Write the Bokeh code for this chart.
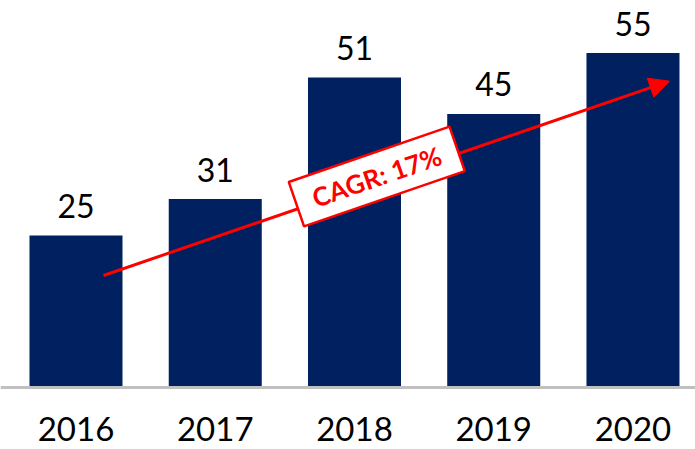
import math
from bokeh.plotting import figure
from bokeh.models import Span, Arrow, NormalHead, Range1d, ColumnDataSource
from bokeh.core.properties import value
from bokeh.embed import file_html
from bokeh.resources import INLINE

years = ["2016", "2017", "2018", "2019", "2020"]
values = [25, 31, 51, 45, 55]
cagr_text = "CAGR: 17%"

xs = list(range(len(years)))
NAVY = "#002060"
RED = "#ff0000"
FONT = "Lato"

p = figure(width=695, height=449, output_backend="svg", toolbar_location=None,
           x_range=Range1d(-0.5422, 4.449), y_range=Range1d(-10.2, 63.65),
           min_border=0)
p.axis.visible = False
p.grid.visible = False
p.outline_line_color = None
p.background_fill_color = "white"
p.border_fill_color = "white"

src = ColumnDataSource(dict(x=xs, top=values, year=years,
                            lab=[str(v) for v in values],
                            ly=[v + 4.85 for v in values],
                            yy=[-6.9] * len(xs)))

p.vbar(x="x", top="top", bottom=0, width=0.668, source=src,
       fill_color=NAVY, line_color=None)

p.add_layout(Span(location=0, dimension="width", line_color="#c0c0c0", line_width=3))

p.text(x="x", y="ly", text="lab", source=src, text_align="center",
       text_baseline="middle", text_font=value(FONT), text_font_size="32px",
       text_color="black")
p.text(x="x", y="yy", text="year", source=src, text_align="center",
       text_baseline="middle", text_font=value(FONT), text_font_size="33px",
       text_color="black")

arrow = Arrow(x_start=0.1975, y_start=18.42, x_end=4.262, y_end=50.38,
              line_color=RED, line_width=3,
              end=NormalHead(size=20, fill_color=RED, line_color=RED))
p.add_layout(arrow)

ang = math.radians(19)
bx, by = 2.16, 34.7
r = p.rect(x=[bx], y=[by], width=170, height=47, width_units="screen",
           height_units="screen", angle=ang, fill_color="white",
           line_color=RED, line_width=2.5)
r.level = "overlay"
t = p.text(x=[bx], y=[by], text=[cagr_text], angle=ang, text_align="center",
           text_baseline="middle", text_font=value(FONT), text_font_style="bold",
           text_font_size="26px", text_color=RED)
t.level = "overlay"

open("out.html", "w").write(file_html(p, INLINE))
